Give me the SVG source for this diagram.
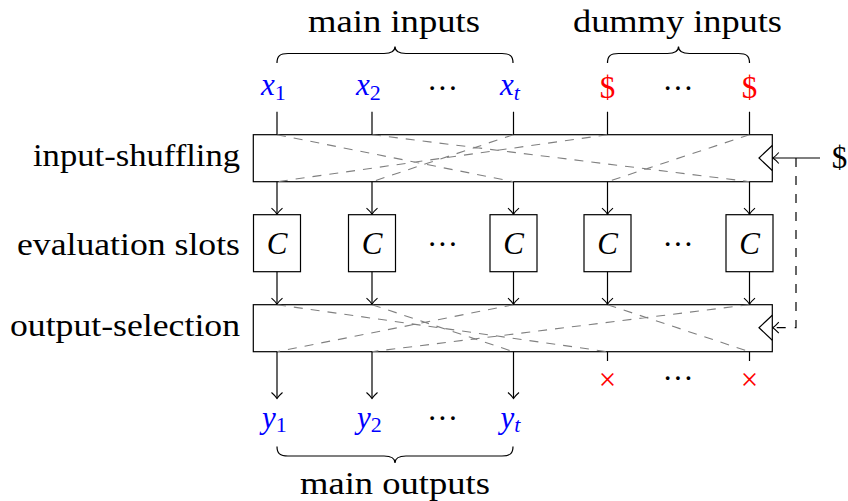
<svg xmlns="http://www.w3.org/2000/svg" width="848" height="501" viewBox="0 0 848 501">
<defs>
<marker id="arr" viewBox="-8 -7 9 14" markerWidth="9" markerHeight="14" refX="0" refY="0" orient="auto" markerUnits="userSpaceOnUse">
<path d="M-6,-5.5 Q-2.5,-1.5 0,0 Q-2.5,1.5 -6,5.5" fill="none" stroke="#000" stroke-width="1.1"/>
</marker>
</defs>
<rect width="848" height="501" fill="#fff"/>

<g id="labels-top">
<text font-family="Times New Roman" font-size="31" x="394" y="32" text-anchor="middle" textLength="172" lengthAdjust="spacingAndGlyphs">main inputs</text>
<text font-family="Times New Roman" font-size="31" x="677.5" y="32" text-anchor="middle" textLength="209" lengthAdjust="spacingAndGlyphs">dummy inputs</text>
<g fill="none" stroke="#000" stroke-width="1.2">
<path d="M277,63 C277,56 280,53.5 288,53.5 L384,53.5 C391,53.5 395,51 395,46.5 C395,51 399,53.5 406,53.5 L502,53.5 C510,53.5 513,56 513,63"/>
<path d="M607.5,63 C607.5,56 610.5,53.5 618.5,53.5 L667.5,53.5 C674.5,53.5 678.5,51 678.5,46.5 C678.5,51 682.5,53.5 689.5,53.5 L738.5,53.5 C746.5,53.5 749.5,56 749.5,63"/>
</g>
</g>

<g id="inputs">
<text font-family="Times New Roman" font-size="31" fill="#0000ff" x="261" y="95"><tspan font-style="italic">x</tspan><tspan font-size="22" dy="5">1</tspan></text>
<text font-family="Times New Roman" font-size="31" fill="#0000ff" x="356" y="95"><tspan font-style="italic">x</tspan><tspan font-size="22" dy="5">2</tspan></text>
<text font-family="Times New Roman" font-size="31" fill="#0000ff" x="500" y="95"><tspan font-style="italic">x</tspan><tspan font-size="22" font-style="italic" dy="5">t</tspan></text>
<text font-family="Times New Roman" font-size="31" fill="#ff0000" x="607.5" y="98" text-anchor="middle">$</text>
<text font-family="Times New Roman" font-size="31" fill="#ff0000" x="749.5" y="98" text-anchor="middle">$</text>
<text font-family="Times New Roman" font-size="31" x="442.5" y="99" text-anchor="middle">···</text>
<text font-family="Times New Roman" font-size="31" x="678" y="99" text-anchor="middle">···</text>
</g>

<g id="side-labels">
<text font-family="Times New Roman" font-size="31" x="240" y="166" text-anchor="end" textLength="207" lengthAdjust="spacingAndGlyphs">input-shuffling</text>
<text font-family="Times New Roman" font-size="31" x="240" y="254.5" text-anchor="end" textLength="223" lengthAdjust="spacingAndGlyphs">evaluation slots</text>
<text font-family="Times New Roman" font-size="31" x="240" y="336" text-anchor="end" textLength="230" lengthAdjust="spacingAndGlyphs">output-selection</text>
</g>

<g id="input-shuffling">
<rect x="253.3" y="134.7" width="519" height="47" fill="#fff" stroke="#000" stroke-width="1.2"/>
<path d="M277,134.7 L513.5,181.7 M372,134.7 L749.5,181.7 M513.5,134.7 L372,181.7 M607.5,134.7 L277,181.7 M749.5,134.7 L607.5,181.7" fill="none" stroke="#808080" stroke-width="1.1" stroke-dasharray="9 8"/>
<path d="M772.3,145.5 L759,158 L772.3,170.5" fill="none" stroke="#000" stroke-width="1.2"/>
</g>

<g id="slots">
<g fill="#fff" stroke="#000" stroke-width="1.2">
<rect id="slot1" x="253.5" y="214.7" width="47" height="57"/>
<rect id="slot2" x="348.5" y="214.7" width="47" height="57"/>
<rect id="slot3" x="490" y="214.7" width="47" height="57"/>
<rect id="slot4" x="584" y="214.7" width="47" height="57"/>
<rect id="slot5" x="726" y="214.7" width="47" height="57"/>
</g>
<text font-family="Times New Roman" font-size="31" font-style="italic" x="277" y="254" text-anchor="middle">C</text>
<text font-family="Times New Roman" font-size="31" font-style="italic" x="372" y="254" text-anchor="middle">C</text>
<text font-family="Times New Roman" font-size="31" font-style="italic" x="513.5" y="254" text-anchor="middle">C</text>
<text font-family="Times New Roman" font-size="31" font-style="italic" x="607.5" y="254" text-anchor="middle">C</text>
<text font-family="Times New Roman" font-size="31" font-style="italic" x="749.5" y="254" text-anchor="middle">C</text>
<text font-family="Times New Roman" font-size="31" x="442.5" y="255" text-anchor="middle">···</text>
<text font-family="Times New Roman" font-size="31" x="678" y="255" text-anchor="middle">···</text>
</g>

<g id="output-selection">
<rect x="253.3" y="304.7" width="519" height="47" fill="#fff" stroke="#000" stroke-width="1.2"/>
<path d="M277,304.7 L607.5,351.7 M372,304.7 L513.5,351.7 M513.5,304.7 L277,351.7 M607.5,304.7 L749.5,351.7 M749.5,304.7 L372,351.7" fill="none" stroke="#808080" stroke-width="1.1" stroke-dasharray="9 8"/>
<path d="M772.3,315.2 L759,327.7 L772.3,340.2" fill="none" stroke="#000" stroke-width="1.2"/>
</g>

<g id="key">
<text font-family="Times New Roman" font-size="31" x="839.5" y="168" text-anchor="middle">$</text>
</g>

<g id="connectors" fill="none" stroke="#000" stroke-width="1.2">
<path d="M277,111.7 V134.7 M372,111.7 V134.7 M513.5,111.7 V134.7 M607.5,111.7 V134.7 M749.5,111.7 V134.7"/>
<path marker-end="url(#arr)" d="M277,181.7 V214.2"/>
<path marker-end="url(#arr)" d="M372,181.7 V214.2"/>
<path marker-end="url(#arr)" d="M513.5,181.7 V214.2"/>
<path marker-end="url(#arr)" d="M607.5,181.7 V214.2"/>
<path marker-end="url(#arr)" d="M749.5,181.7 V214.2"/>
<path marker-end="url(#arr)" d="M277,271.7 V304.2"/>
<path marker-end="url(#arr)" d="M372,271.7 V304.2"/>
<path marker-end="url(#arr)" d="M513.5,271.7 V304.2"/>
<path marker-end="url(#arr)" d="M607.5,271.7 V304.2"/>
<path marker-end="url(#arr)" d="M749.5,271.7 V304.2"/>
<path marker-end="url(#arr)" d="M277,351.7 V398.5"/>
<path marker-end="url(#arr)" d="M372,351.7 V398.5"/>
<path marker-end="url(#arr)" d="M513.5,351.7 V398.5"/>
<path d="M607.5,351.7 V361 M749.5,351.7 V361"/>
<path marker-end="url(#arr)" d="M820,158 H772.8"/>
<path marker-end="url(#arr)" stroke-dasharray="9 9" d="M796,158 V327.7 H772.8"/>
</g>

<g id="outputs">
<text font-family="Times New Roman" font-size="31" fill="#0000ff" x="262" y="428"><tspan font-style="italic">y</tspan><tspan font-size="22" dy="4">1</tspan></text>
<text font-family="Times New Roman" font-size="31" fill="#0000ff" x="357" y="428"><tspan font-style="italic">y</tspan><tspan font-size="22" dy="4">2</tspan></text>
<text font-family="Times New Roman" font-size="31" fill="#0000ff" x="500.5" y="428"><tspan font-style="italic">y</tspan><tspan font-size="22" font-style="italic" dy="4">t</tspan></text>
<text font-family="Times New Roman" font-size="31" fill="#ff0000" x="607.5" y="389.5" text-anchor="middle">×</text>
<text font-family="Times New Roman" font-size="31" fill="#ff0000" x="749.5" y="389.5" text-anchor="middle">×</text>
<text font-family="Times New Roman" font-size="31" x="442.5" y="429" text-anchor="middle">···</text>
<text font-family="Times New Roman" font-size="31" x="678" y="389" text-anchor="middle">···</text>
</g>

<g id="labels-bottom">
<path d="M277,446.5 C277,453.5 280,456 288,456 L384,456 C391,456 395,458.5 395,463 C395,458.5 399,456 406,456 L502,456 C510,456 513,453.5 513,446.5" fill="none" stroke="#000" stroke-width="1.2"/>
<text font-family="Times New Roman" font-size="31" x="395" y="494" text-anchor="middle" textLength="190" lengthAdjust="spacingAndGlyphs">main outputs</text>
</g>
</svg>
